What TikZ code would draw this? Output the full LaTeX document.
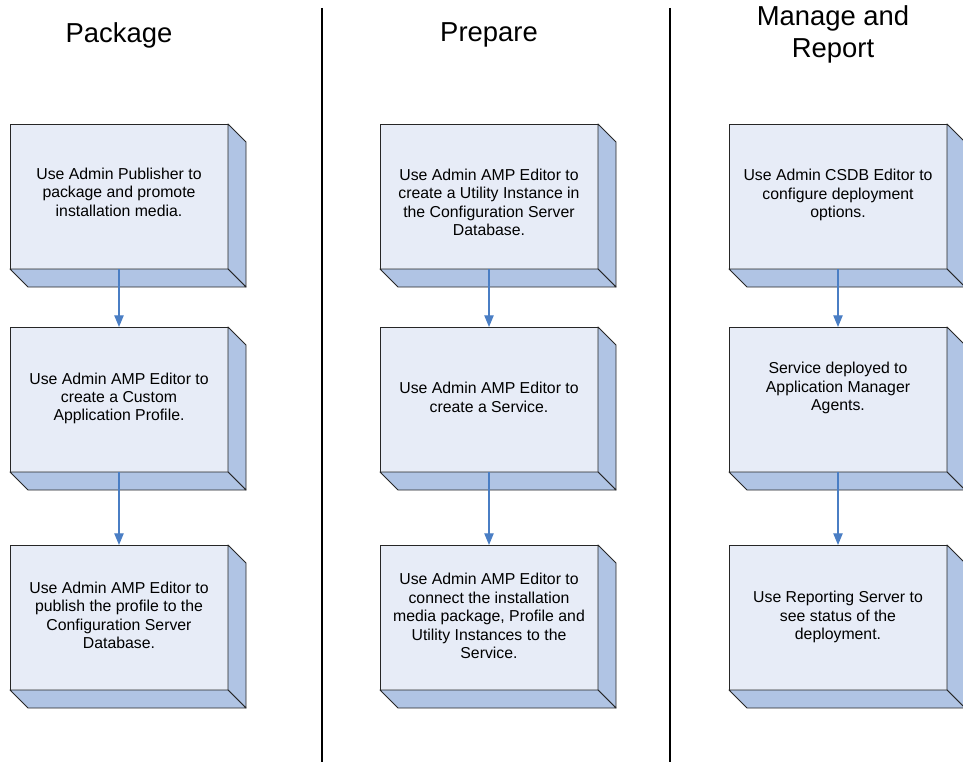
\documentclass[tikz,border=0pt]{standalone}
\usepackage{fontspec}
\setmainfont{Liberation Sans}
\usetikzlibrary{arrows.meta}

\definecolor{frontblue}{RGB}{231,236,247}
\definecolor{sideblue}{RGB}{176,196,228}
\definecolor{flowblue}{RGB}{74,126,196}

\tikzset{
	stepbox/.style={draw=black!85, fill=frontblue, line width=0.8pt,
		minimum width=6.54cm, minimum height=4.35cm, inner sep=0pt, outer sep=0pt},
	sideface/.style={draw=black!85, fill=sideblue, line width=0.8pt, line join=round},
	steptext/.style={align=center, inner sep=0pt, font=\fontsize{13.5}{15.7}\selectfont},
	heading/.style={align=center, inner sep=0pt, font=\fontsize{23.4}{28}\selectfont},
	divider/.style={line width=1.7pt},
	flow/.style={draw=flowblue, line width=1.1pt,
		-{Triangle[length=10pt,width=8pt,fill=flowblue]}},
}

\begin{document}
\begin{tikzpicture}[x=0.03cm, y=-0.03cm]
	\useasboundingbox (0,0) rectangle (963,762);
	% Spalten-Trenner
	\draw [divider] (322,8) -- (322,762);
	\draw [divider] (670,8) -- (670,762);
	% Ueberschriften
	\node [heading] (hpack) at (119,35) {Package};
	\node [heading] (hprep) at (489,35) {Prepare};
	\node [heading] (hmana) at (833,34.5) {Manage and\\Report};
	% Kaesten (Vorderseite)
	\node [stepbox] (p1) at (119,196.5) {};
	\node [stepbox] (p2) at (119,399.5) {};
	\node [stepbox] (p3) at (119,617.5) {};
	\node [stepbox] (r1) at (489,196.5) {};
	\node [stepbox] (r2) at (489,399.5) {};
	\node [stepbox] (r3) at (489,617.5) {};
	\node [stepbox] (m1) at (838,196.5) {};
	\node [stepbox] (m2) at (838,399.5) {};
	\node [stepbox] (m3) at (838,617.5) {};
	% Seiten- und Bodenflaechen
	\foreach \b in {p1,p2,p3,r1,r2,r3,m1,m2,m3} {
		\draw [sideface] (\b.north east) -- ++(18,18) -- ([shift={(18,18)}]\b.south east) -- (\b.south east) -- cycle;
		\draw [sideface] (\b.south west) -- (\b.south east) -- ++(18,18) -- ([shift={(18,18)}]\b.south west) -- cycle;
	}
	% Texte
	\node [steptext] (p1t) at (119,192) {Use Admin Publisher to\\package and promote\\installation media.};
	\node [steptext] (p2t) at (119,398.5) {Use Admin AMP Editor to\\create a Custom\\Application Profile.};
	\node [steptext] (p3t) at (119,615.5) {Use Admin AMP Editor to\\publish the profile to the\\Configuration Server\\Database.};
	\node [steptext] (r1t) at (489,202.5) {Use Admin AMP Editor to\\create a Utility Instance in\\the Configuration Server\\Database.};
	\node [steptext] (r2t) at (489,397.5) {Use Admin AMP Editor to\\create a Service.};
	\node [steptext] (r3t) at (489,616) {Use Admin AMP Editor to\\connect the installation\\media package, Profile and\\Utility Instances to the\\Service.};
	\node [steptext] (m1t) at (838,195) {Use Admin CSDB Editor to\\configure deployment\\options.};
	\node [steptext] (m2t) at (838,388) {Service deployed to\\Application Manager\\Agents.};
	\node [steptext] (m3t) at (838,617) {Use Reporting Server to\\see status of the\\deployment.};
	% Pfeile
	\draw [flow] (p1) -- (p2);
	\draw [flow] (p2) -- (p3);
	\draw [flow] (r1) -- (r2);
	\draw [flow] (r2) -- (r3);
	\draw [flow] (m1) -- (m2);
	\draw [flow] (m2) -- (m3);
\end{tikzpicture}
\end{document}
